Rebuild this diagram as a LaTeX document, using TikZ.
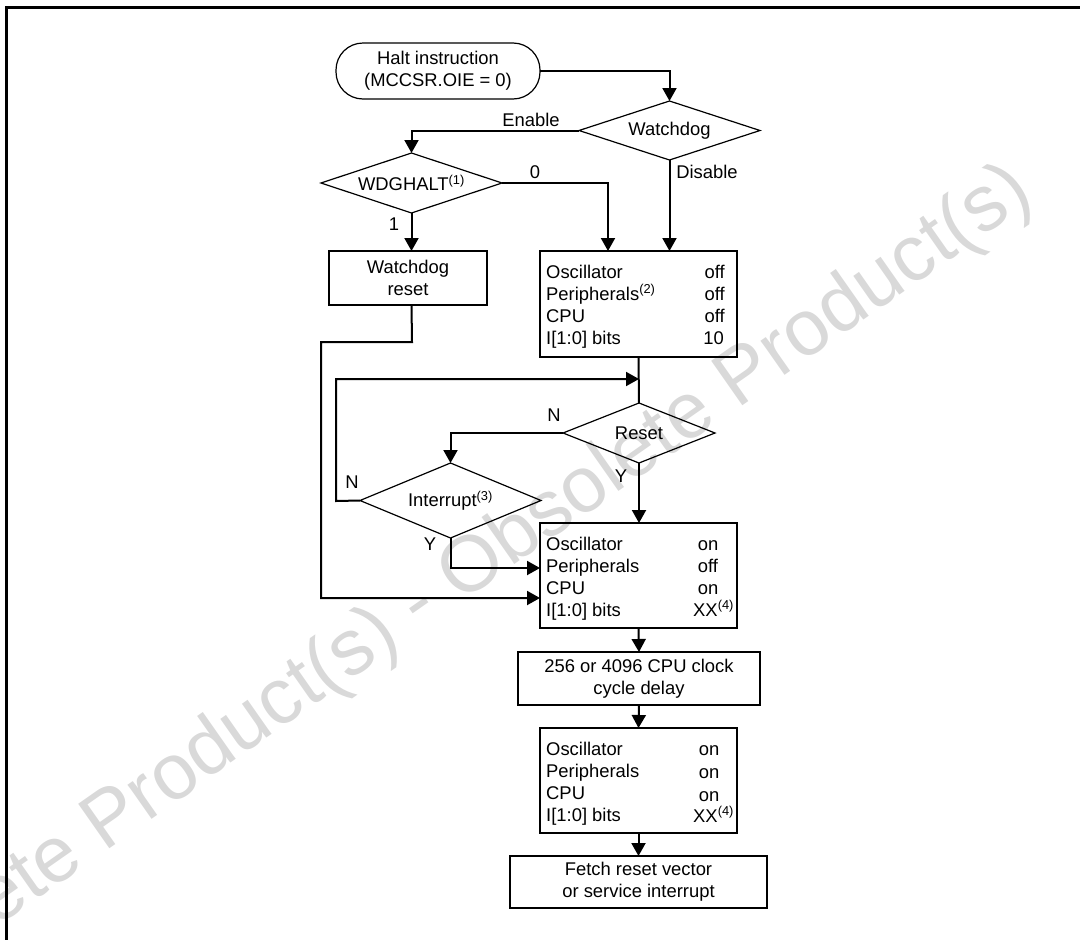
\documentclass[tikz,border=0pt]{standalone}
\usepackage{fontspec}
\setmainfont{Liberation Sans}
\usetikzlibrary{arrows.meta,shapes.geometric,calc}
\begin{document}
\begin{tikzpicture}[x=1pt,y=-1pt,
  every node/.style={font=\fontsize{18.4}{22}\selectfont},
  box/.style={draw,line width=2.2pt,rectangle,inner sep=0pt,outer sep=0pt,align=center},
  dia/.style={draw,line width=1.2pt,diamond,inner sep=0pt,outer sep=0pt,aspect=3},
  arr/.style={line width=2pt,-{Triangle[width=14pt,length=13pt]}},
  ln/.style={line width=2pt},
  lbl/.style={anchor=base,inner sep=0pt},
  rw/.style={anchor=base west,inner sep=0pt},
  re/.style={anchor=base east,inner sep=0pt},
  rc/.style={anchor=base,inner sep=0pt},
  wm/.style={font=\fontsize{79}{79}\selectfont,text=black!15,rotate=35,anchor=base east,inner sep=0pt}]
\useasboundingbox (0,0) rectangle (1080,940);
% watermark
\node[wm] (wmark) at (1036,200) {Obsolete Product(s) - Obsolete Product(s)};
% frame
\draw[line width=3pt] (6,940) -- (6,7) -- (1080,7);
% shapes
\node[draw,line width=1.2pt,rectangle,rounded corners=27pt,inner sep=0pt,outer sep=0pt,align=center,
  minimum width=204pt,minimum height=56pt] (halt) at (438,71) {Halt instruction\\(MCCSR.OIE = 0)};
\node[dia,minimum width=181pt,minimum height=59pt] (wd) at (669.5,130.5) {Watchdog};
\node[dia,minimum width=181pt,minimum height=60pt] (wdg) at (411.5,183) {WDGHALT\textsuperscript{(1)}};
\node[box,minimum width=158pt,minimum height=54pt] (wdr) at (408,278) {Watchdog\\reset};
\node[box,minimum width=197pt,minimum height=106pt] (box1) at (638.5,304) {};
\node[dia,minimum width=152pt,minimum height=60pt] (rst) at (639,433) {Reset};
\node[dia,aspect=2.4,minimum width=181pt,minimum height=75pt] (int) at (450.5,500.5) {Interrupt\textsuperscript{(3)}};
\node[box,minimum width=197pt,minimum height=105pt] (box2) at (638.5,575.5) {};
\node[box,minimum width=242pt,minimum height=53pt] (delay) at (639,678.5) {256 or 4096 CPU clock\\cycle delay};
\node[box,minimum width=197pt,minimum height=105pt] (box3) at (638.5,780.5) {};
\node[box,minimum width=257pt,minimum height=52pt] (fetch) at (638.5,882) {Fetch reset vector\\or service interrupt};
% box1 rows
\node[rw] (b1a) at (546,278) {Oscillator};
\node[rw] (b1b) at (546,300) {Peripherals\textsuperscript{(2)}};
\node[rw] (b1c) at (546,322) {CPU};
\node[rw] (b1d) at (546,344) {I[1:0] bits};
\node[re] (b1e) at (725,278) {off};
\node[re] (b1f) at (725,300) {off};
\node[re] (b1g) at (725,322) {off};
\node[re] (b1h) at (724,344) {10};
% box2 rows
\node[rw] (b2a) at (546,550) {Oscillator};
\node[rw] (b2b) at (546,572) {Peripherals};
\node[rw] (b2c) at (546,594) {CPU};
\node[rw] (b2d) at (546,616) {I[1:0] bits};
\node[rc] (b2e) at (708,550) {on};
\node[rc] (b2f) at (708,572) {off};
\node[rc] (b2g) at (708,594) {on};
\node[rw] (b2h) at (693,616) {XX\textsuperscript{(4)}};
% box3 rows
\node[rw] (b3a) at (546,755) {Oscillator};
\node[rw] (b3b) at (546,777) {Peripherals};
\node[rw] (b3c) at (546,799) {CPU};
\node[rw] (b3d) at (546,821) {I[1:0] bits};
\node[rc] (b3e) at (709,755) {on};
\node[rc] (b3f) at (709,778) {on};
\node[rc] (b3g) at (709,801) {on};
\node[rw] (b3h) at (693,822) {XX\textsuperscript{(4)}};
% labels
\node[lbl] (lenable) at (531,126) {Enable};
\node[lbl] (ldisable) at (707,178) {Disable};
\node[lbl] (lzero) at (535,178) {0};
\node[lbl] (lone) at (394,230) {1};
\node[lbl] (lnr) at (554,421) {N};
\node[lbl] (lni) at (352,488) {N};
\node[lbl] (lyi) at (430,550) {Y};
\node[lbl] (lyr) at (621,482) {Y};
% bend coordinates
\coordinate (in0) at (608,251);
\coordinate (w1) at (412,342);
\coordinate (w2) at (321,342);
\coordinate (w3) at (321,598);
\coordinate (l1) at (336,501);
\coordinate (l2) at (336,379);
\coordinate (jn) at (639,379);
\coordinate (i1) at (450.5,568);
% connectors
\draw[arr] (halt.east) -| (wd.north);
\draw[arr] (wd.west) -| (wdg.north);
\draw[arr] (wdg.east) -| (in0);
\draw[arr] (wd.south) -- (wd.south |- box1.north);
\draw[arr] (wdg.south) -- (wdg.south |- wdr.north);
\draw[arr] (wdg.south |- wdr.south) -- (w1) -- (w2) -- (w3) -- (w3 -| box2.west);
\draw[ln] (box1.south) -- (rst.north);
\draw[arr] (int.west) -- (l1) -- (l2) -- (jn);
\draw[arr] (rst.west) -| (int.north);
\draw[arr] (rst.south) -- (rst.south |- box2.north);
\draw[arr] (int.south) -- (i1) -- (i1 -| box2.west);
\draw[arr] (box2.south) -- (delay.north);
\draw[arr] (delay.south) -- (box3.north);
\draw[arr] (box3.south) -- (fetch.north);
\end{tikzpicture}
\end{document}
